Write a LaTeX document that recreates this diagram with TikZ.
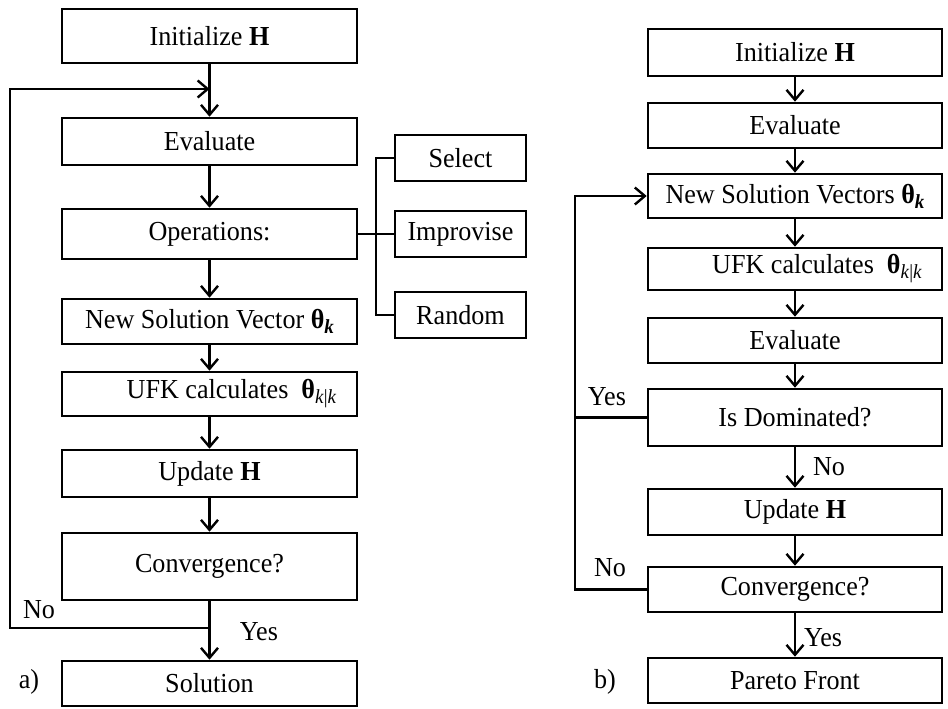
\documentclass[tikz,border=0pt]{standalone}
\usepackage{fontspec}
\setmainfont{Liberation Serif}[FakeStretch=0.95]
\usetikzlibrary{arrows.meta}
\newcommand{\subsc}[1]{\raisebox{-5pt}{\fontsize{20}{20}\selectfont #1}}
\newcommand{\thk}{\textbf{θ}\subsc{\textbf{\textit{k}}}}
\newcommand{\thkk}{\textbf{θ}\subsc{\textit{k}|\textit{k}}}
\begin{document}
\begin{tikzpicture}[x=1pt,y=-1pt,
  box/.style={draw, line width=2.6pt, inner sep=0pt, font=\fontsize{27.5}{30}\selectfont},
  colA/.style={box, minimum width=295pt},
  colB/.style={box, minimum width=294pt},
  side/.style={box, minimum width=131pt, minimum height=46pt},
  conn/.style={line width=2.6pt},
  arr/.style={conn, -{Straight Barb[length=10pt,width=17pt,line width=2.4pt]}},
  lbl/.style={font=\fontsize{27.5}{30}\selectfont, inner sep=0pt}]
\useasboundingbox (0,0) rectangle (948,709);
% ---------- a) ----------
\node[colA, minimum height=54pt] (iniA) at (209.5,36) {Initialize \textbf{H}};
\node[colA, minimum height=47pt] (evA) at (209.5,141.5) {Evaluate};
\node[colA, minimum height=50pt] (opA) at (209.5,234) {Operations:};
\node[colA, minimum height=45pt] (nsA) at (209.5,321.5) {New Solution Vector \thk};
\node[colA, minimum height=44pt] (ufkA) at (209.5,394) {\hspace*{44pt}UFK calculates\ \ \thkk};
\node[colA, minimum height=47pt] (upA) at (209.5,473.5) {Update \textbf{H}};
\node[colA, minimum height=67pt] (cvA) at (209.5,566.5) {Convergence?};
\node[colA, minimum height=45pt] (solA) at (209.5,683.5) {Solution};
\node[side] (sel) at (460.5,158) {Select};
\node[side] (imp) at (460.5,234) {Improvise};
\node[side] (rnd) at (460.5,315) {Random};
\coordinate (lpA) at (10,628);
\coordinate (lqA) at (10,89);
\coordinate (busA) at (376,158);
\draw[arr] (iniA.south) -- (evA.north);
\draw[arr] (evA.south) -- (opA.north);
\draw[arr] (opA.south) -- (nsA.north);
\draw[arr] (nsA.south) -- (ufkA.north);
\draw[arr] (ufkA.south) -- (upA.north);
\draw[arr] (upA.south) -- (cvA.north);
\draw[arr] (cvA.south) -- (solA.north);
\draw[arr] (cvA.south |- lpA) -- (lpA) -- (lqA) -- (iniA.south |- lqA);
\draw[conn] (opA.east) -- (imp.west);
\draw[conn] (sel.west) -- (busA) |- (rnd.west);
\node[lbl] (noA) at (39,610) {No};
\node[lbl] (yesA) at (259,632) {Yes};
\node[lbl] (tagA) at (29,682) {a)};
% ---------- b) ----------
\node[colB, minimum height=47pt] (iniB) at (795,52.5) {Initialize \textbf{H}};
\node[colB, minimum height=45pt] (evB) at (795,125.5) {Evaluate};
\node[colB, minimum height=44pt] (nsB) at (795,196) {New Solution Vectors \thk};
\node[colB, minimum height=42pt] (ufkB) at (795,269) {\hspace*{44pt}UFK calculates\ \ \thkk};
\node[colB, minimum height=45pt] (ev2B) at (795,340.5) {Evaluate};
\node[colB, minimum height=57pt] (domB) at (795,417.5) {Is Dominated?};
\node[colB, minimum height=46pt] (upB) at (795,512) {Update \textbf{H}};
\node[colB, minimum height=45pt] (cvB) at (795,589.5) {Convergence?};
\node[colB, minimum height=45pt] (parB) at (795,680.5) {Pareto Front};
\coordinate (lpB) at (575,589.5);
\coordinate (lqB) at (575,196);
\draw[arr] (iniB.south) -- (evB.north);
\draw[arr] (evB.south) -- (nsB.north);
\draw[arr] (nsB.south) -- (ufkB.north);
\draw[arr] (ufkB.south) -- (ev2B.north);
\draw[arr] (ev2B.south) -- (domB.north);
\draw[arr] (domB.south) -- (upB.north);
\draw[arr] (upB.south) -- (cvB.north);
\draw[arr] (cvB.south) -- (parB.north);
\draw[arr] (cvB.west) -- (lpB) -- (lqB) -- (nsB.west);
\draw[conn] (domB.west) -- (domB.west -| lpB);
\node[lbl] (yesB1) at (607,397) {Yes};
\node[lbl] (noB1) at (829,467) {No};
\node[lbl] (noB2) at (610,568) {No};
\node[lbl] (yesB2) at (823,638) {Yes};
\node[lbl] (tagB) at (605,682) {b)};
\end{tikzpicture}
\end{document}
